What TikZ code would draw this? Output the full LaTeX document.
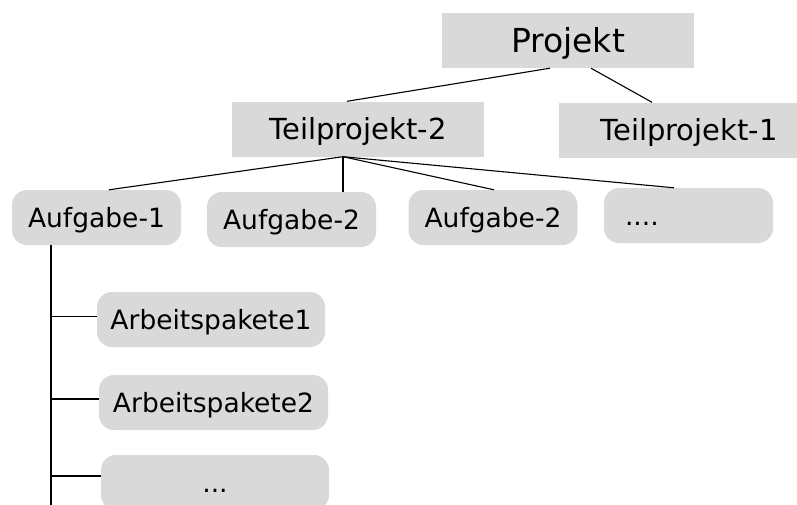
\documentclass[tikz,border=0pt]{standalone}
\usepackage{fontspec}
\setmainfont{DejaVu Sans}
\usetikzlibrary{positioning}
\definecolor{boxgray}{RGB}{217,217,217}

\begin{document}
\begin{tikzpicture}[x=1pt,y=-1pt,
    proj/.style={fill=boxgray,minimum width=252pt,minimum height=55pt,inner sep=0pt,
        text height=21.2pt,text depth=0pt,font=\fontsize{29}{34}\selectfont},
    task/.style={fill=boxgray,rounded corners=15pt,minimum width=169pt,minimum height=55pt,
        inner sep=0pt,text height=19.3pt,text depth=0pt,font=\fontsize{26.5}{30}\selectfont},
    pkg/.style={task,minimum width=228pt},
    link/.style={black,line width=1.1pt}]
    \clip (0,0) rectangle (797,504);
    %%%%% PROJECT AND SUBPROJECTS
    \node[proj,text height=24pt,font=\fontsize{33}{38}\selectfont] (PROJ) at (568,40.5) {Projekt};
    \node[proj] (TP2) at (358,129) {Teilprojekt-2};
    \node[proj,minimum width=260pt] (TP1) at (689,130) {Teilprojekt-1};
    %%%%% TASKS
    \node[task] (A1) at (96.5,217.5) {Aufgabe-1};
    \node[task] (A2) at (291.5,219.5) {Aufgabe-2};
    \node[task] (A3) at (493,217.5) {Aufgabe-2};
    \node[task,text width=127pt,align=left] (A4) at (688.5,215.5) {....};
    %%%%% WORK PACKAGES
    \node[pkg] (WP1) at (211,319.5) {Arbeitspakete1};
    \node[pkg,minimum width=229pt] (WP2) at (213.5,402.5) {Arbeitspakete2};
    \node[pkg] (WP3) at (215,482.5) {...};
    %%%% LINKS
    \draw[link] ([xshift=-18pt]PROJ.south) -- ([xshift=-11pt]TP2.north);
    \draw[link] ([xshift=23pt]PROJ.south) -- ([xshift=-37pt]TP1.north);
    \coordinate (FORK) at ([xshift=-15pt]TP2.south);
    \draw[link] (FORK) -- ([xshift=12.5pt]A1.north);
    \draw[link] (FORK) -- ([xshift=51.5pt]A2.north);
    \draw[link] (FORK) -- ([xshift=1pt]A3.north);
    \draw[link] (FORK) -- ([xshift=-14.5pt]A4.north);
    % stem below the first task
    \coordinate (STEM) at ([xshift=-45.5pt]A1.south);
    \coordinate (STEMEND) at (STEM |- 0,510);
    \draw[link] (STEM) -- (STEMEND);
    \draw[link] ([yshift=3pt]WP1.west -| STEM) -- ([yshift=3pt]WP1.west);
    \draw[link] ([yshift=3.5pt]WP2.west -| STEM) -- ([yshift=3.5pt]WP2.west);
    \draw[link] ([yshift=6.5pt]WP3.west -| STEM) -- ([yshift=6.5pt]WP3.west);
\end{tikzpicture}
\end{document}
